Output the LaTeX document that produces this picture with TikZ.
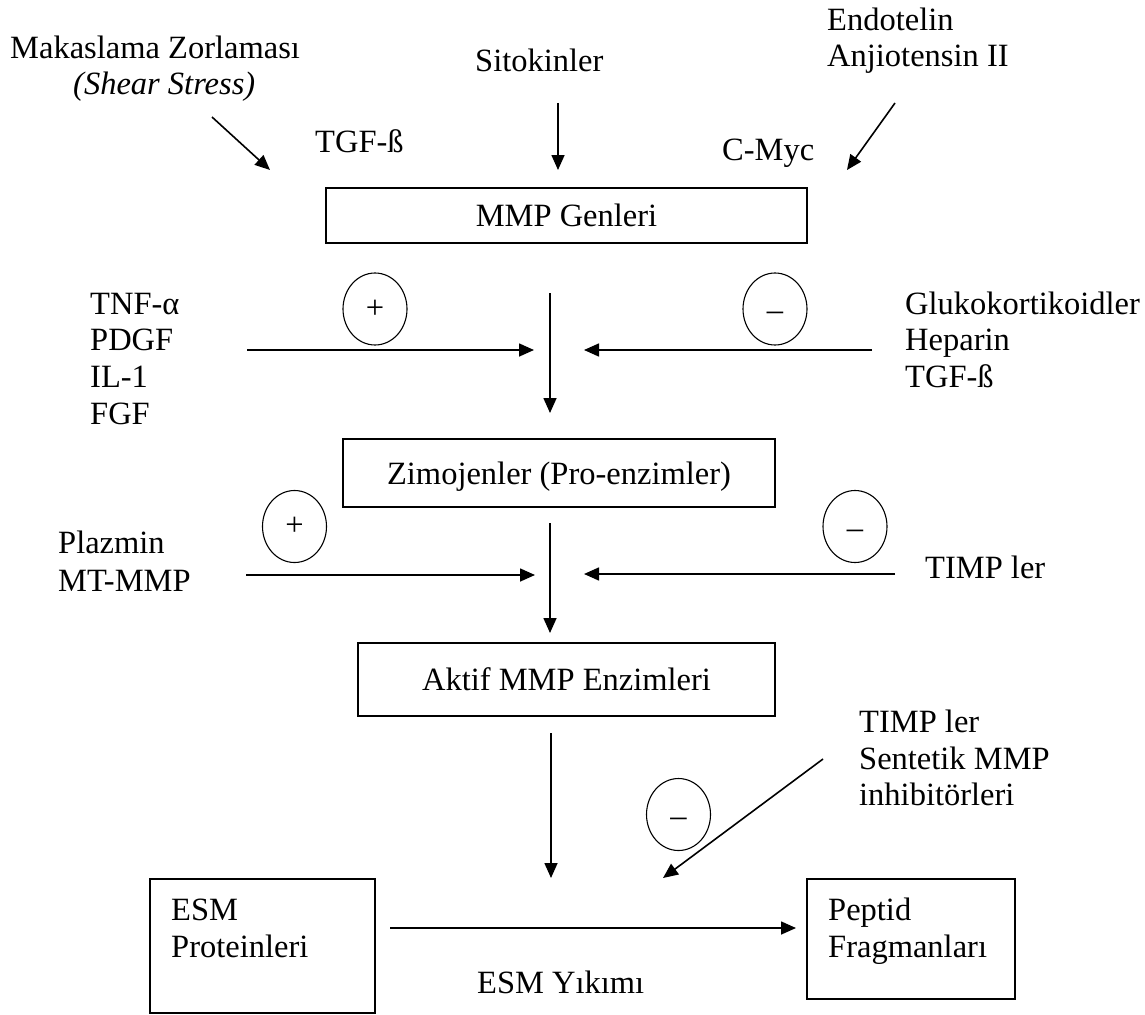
\documentclass[tikz,border=0pt]{standalone}
\usepackage{fontspec}
\setmainfont{Liberation Serif}
\usetikzlibrary{shapes.geometric,arrows.meta}
\begin{document}
\begin{tikzpicture}[x=1pt,y=-1pt,
  lbl/.style={anchor=base west,inner sep=0pt,font=\fontsize{32.5}{37}\selectfont},
  box/.style={draw,line width=1.6pt,rectangle,inner sep=0pt,font=\fontsize{32.5}{37}\selectfont,text height=22pt,text depth=0pt},
  sign/.style={draw,ellipse,line width=1.1pt,minimum width=64pt,minimum height=72pt,inner sep=0pt,font=\fontsize{32.5}{37}\selectfont},
  arr/.style={line width=1.6pt,-{Triangle[length=15pt,width=13pt]}},
]
\fill[white] (0,0) rectangle (1145,1014);
\useasboundingbox (0,0) rectangle (1145,1014);

% top inputs
\node[lbl] (mak) at (10,59) {Makaslama Zorlaması};
\node[lbl] (shear) at (73,95) {\itshape (Shear Stress)};
\node[lbl] (tgfa) at (315,153) {TGF-ß};
\node[lbl] (sito) at (475,72) {Sitokinler};
\node[lbl] (cmyc) at (722,160) {C-Myc};
\node[lbl] (endo) at (827,31) {Endotelin};
\node[lbl] (anji) at (827,67) {Anjiotensin II};

\coordinate (s1) at (212,117); \coordinate (e1) at (270,170);
\coordinate (s2) at (558,103); \coordinate (e2) at (558,170);
\coordinate (s3) at (895,103); \coordinate (e3) at (847,170);
\draw[arr] (s1) -- (e1);
\draw[arr] (s2) -- (e2);
\draw[arr] (s3) -- (e3);

\node[box,minimum width=481pt,minimum height=55pt] (mmp) at (566.5,215.5) {MMP Genleri};

% first regulation
\node[sign] (p1) at (375,309) {+};
\node[sign] (m1) at (775,309) {\raisebox{-11.5pt}[0pt][0pt]{–}};
\node[lbl] (tnf) at (90,314) {TNF-α};
\node[lbl] (pdgf) at (90,350) {PDGF};
\node[lbl] (il) at (90,387) {IL-1};
\node[lbl] (fgf) at (90,424) {FGF};
\node[lbl] (gluk) at (905,314) {Glukokortikoidler};
\node[lbl] (hep) at (905,350) {Heparin};
\node[lbl] (tgfb) at (905,387) {TGF-ß};

\coordinate (la1s) at (247,350); \coordinate (la1e) at (534,350);
\coordinate (ra1s) at (872,350); \coordinate (ra1e) at (584,350);
\coordinate (va1s) at (550,293); \coordinate (va1e) at (550,413);
\draw[arr] (la1s) -- (la1e);
\draw[arr] (ra1s) -- (ra1e);
\draw[arr] (va1s) -- (va1e);

\node[box,minimum width=432pt,minimum height=68pt] (zim) at (559,473) {Zimojenler (Pro-enzimler)};

% second regulation
\node[sign] (p2) at (294.5,526.5) {+};
\node[sign] (m2) at (855,526.5) {\raisebox{-11.5pt}[0pt][0pt]{–}};
\node[lbl] (plaz) at (58,553) {Plazmin};
\node[lbl] (mt) at (58,591) {MT-MMP};
\node[lbl] (timpa) at (925,578) {TIMP ler};

\coordinate (la2s) at (246,575); \coordinate (la2e) at (535,575);
\coordinate (ra2s) at (895,574); \coordinate (ra2e) at (584,574);
\coordinate (va2s) at (550,523); \coordinate (va2e) at (550,633);
\draw[arr] (la2s) -- (la2e);
\draw[arr] (ra2s) -- (ra2e);
\draw[arr] (va2s) -- (va2e);

\node[box,minimum width=417pt,minimum height=73pt] (akt) at (566.5,679.5) {Aktif MMP Enzimleri};

% degradation
\coordinate (va3s) at (551,733); \coordinate (va3e) at (551,878);
\draw[arr] (va3s) -- (va3e);

\node[lbl] (timpb) at (859,732) {TIMP ler};
\node[lbl] (sent) at (859,769) {Sentetik MMP};
\node[lbl] (inh) at (859,805) {inhibitörleri};
\coordinate (ds) at (823,759); \coordinate (de) at (663,878);
\draw[arr] (ds) -- (de);
\node[sign] (m3) at (678.5,814.5) {\raisebox{-11.5pt}[0pt][0pt]{–}};

\node[draw,line width=1.6pt,rectangle,minimum width=225pt,minimum height=134pt] (esm) at (262.5,946) {};
\node[lbl] (esmt) at (171,920) {ESM};
\node[lbl] (prot) at (171,957) {Proteinleri};

\node[draw,line width=1.6pt,rectangle,minimum width=208pt,minimum height=120pt] (pep) at (911,939) {};
\node[lbl] (pept) at (828,920) {Peptid};
\node[lbl] (frag) at (828,957) {Fragmanları};

\coordinate (bs) at (390,928); \coordinate (be) at (796,928);
\draw[arr] (bs) -- (be);
\node[lbl] (yik) at (477,993) {ESM Yıkımı};
\end{tikzpicture}
\end{document}
